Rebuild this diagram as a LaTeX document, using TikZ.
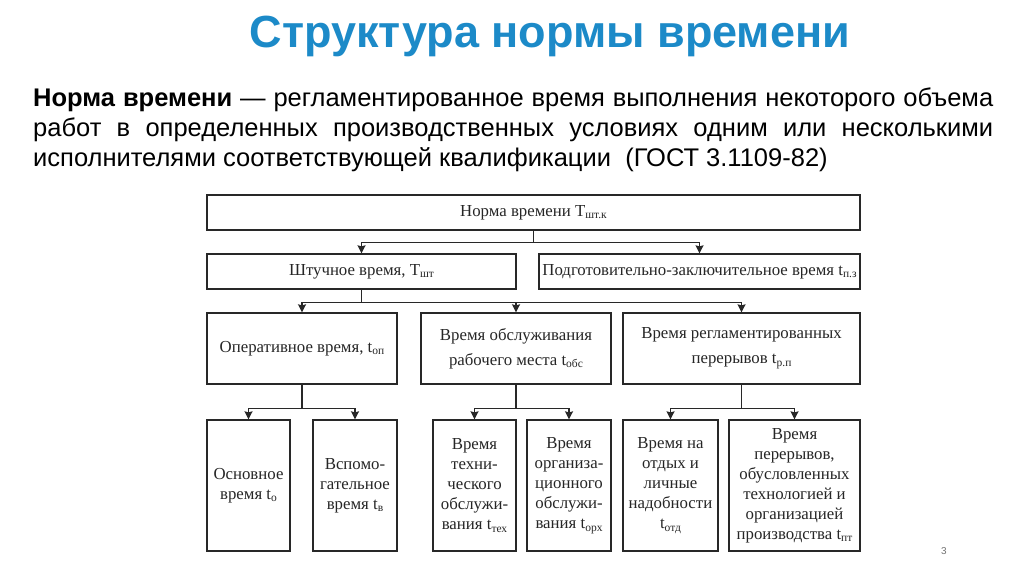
\documentclass[tikz,border=0pt]{standalone}
\usepackage{fontspec}
\setmainfont{Liberation Serif}
\newfontfamily\arialf{Liberation Sans}
\usetikzlibrary{arrows.meta}
\definecolor{titleblue}{RGB}{28,138,200}
\definecolor{linec}{RGB}{40,40,40}
\newcommand\subx[1]{\raisebox{-0.35ex}{\fontsize{11.5}{11.5}\selectfont#1}}
\begin{document}
\begin{tikzpicture}[x=1pt,y=-1pt,
  box/.style={draw=linec,line width=1.3pt,rectangle,align=center,inner sep=1pt,
    font=\fontsize{16.8}{20}\selectfont,text=black!85},
  box3/.style={box,font=\fontsize{16.8}{25}\selectfont},
  arr/.style={draw=linec,line width=1.3pt,-{Stealth[length=8pt,width=8pt,inset=1pt]}},
  para/.style={anchor=base west,inner sep=0,font=\arialf\fontsize{25.5}{29}\selectfont}]
\useasboundingbox (0,0) rectangle (1024,574);
\fill[white] (0,0) rectangle (1024,574);
% title
\node[anchor=base,font=\arialf\bfseries\fontsize{45}{52}\selectfont,text=titleblue] (title) at (550,47) {Структура нормы времени};
% paragraph
\node[para] (p1) at (33,106)
  {\makebox[960pt][s]{\textbf{Норма времени} — регламентированное время выполнения некоторого объема}};
\node[para] (p2) at (33,136)
  {\makebox[960pt][s]{работ в определенных производственных условиях одним или несколькими}};
\node[para] (p3) at (33,166)
  {исполнителями соответствующей квалификации \ (ГОСТ 3.1109-82)};
% boxes
\node[box,minimum width=653,minimum height=35] (top) at (533.5,212.5) {Норма времени Т\subx{шт.к}};
\node[box,minimum width=309,minimum height=35] (sht) at (361.5,271.5) {Штучное время, Т\subx{шт}};
\node[box,minimum width=321,minimum height=35,inner sep=0] (pz) at (699.5,271.5) {Подготовительно-заключительное время t\subx{п.з}};
\node[box3,minimum width=190,minimum height=71] (op) at (302,348.5) {Оперативное время, t\subx{оп}};
\node[box3,minimum width=190,minimum height=71] (obs) at (516,348.5) {Время обслуживания\\рабочего места t\subx{обс}};
\node[box3,minimum width=237,minimum height=71] (rp) at (741.5,348.5) {Время регламентированных\\перерывов t\subx{р.п}};
\node[box,minimum width=83,minimum height=131] (b1) at (248.5,485.5) {Основное\\время t\subx{о}};
\node[box,minimum width=84,minimum height=131] (b2) at (355,485.5) {Вспомо-\\гательное\\время t\subx{в}};
\node[box,minimum width=83,minimum height=131] (b3) at (474.5,485.5) {Время\\техни-\\ческого\\обслужи-\\вания t\subx{тех}};
\node[box,minimum width=84,minimum height=131] (b4) at (569,485.5) {Время\\организа-\\ционного\\обслужи-\\вания t\subx{орх}};
\node[box,minimum width=95,minimum height=131] (b5) at (670.5,485.5) {Время на\\отдых и\\личные\\надобности\\t\subx{отд}};
\node[box,minimum width=131,minimum height=131,inner sep=0] (b6) at (794.5,485.5) {Время\\перерывов,\\обусловленных\\технологией и\\организацией\\производства t\subx{пт}};
% connectors
\draw[arr] (top.south) -- ++(0,12) -| (sht.north);
\draw[arr] (top.south) -- ++(0,12) -| (pz.north);
\draw[arr] (sht.south) -- ++(0,13) -| (op.north);
\draw[arr] (sht.south) -- ++(0,13) -| (obs.north);
\draw[arr] (sht.south) -- ++(0,13) -| (rp.north);
\draw[arr] (op.south) -- ++(0,24) -| (b1.north);
\draw[arr] (op.south) -- ++(0,24) -| (b2.north);
\draw[arr] (obs.south) -- ++(0,24) -| (b3.north);
\draw[arr] (obs.south) -- ++(0,24) -| (b4.north);
\draw[arr] (rp.south) -- ++(0,24) -| (b5.north);
\draw[arr] (rp.south) -- ++(0,24) -| (b6.north);
% page number
\node[font=\arialf\fontsize{10}{12}\selectfont,text=black!55] (pg) at (944,551) {3};
\end{tikzpicture}
\end{document}
